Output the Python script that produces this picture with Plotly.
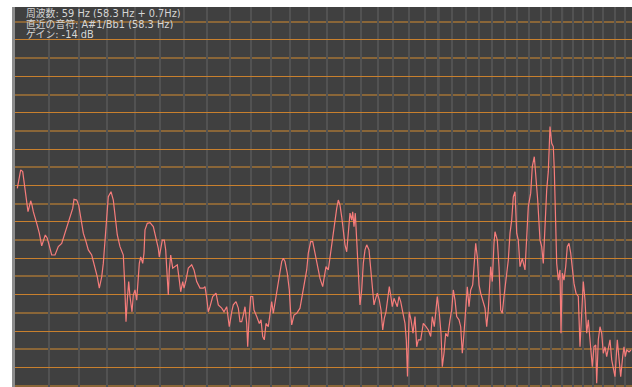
import plotly.graph_objects as go

# Spectrum analyser readout (bin index vs level in dB)
bins = [5.3, 7, 8.7, 10.7, 12, 14, 16, 17.3, 18.7, 20, 21.3, 24.7, 27.3, 29.7, 31.3, 33.3, 35.3, 37.3, 39.7, 43,
        46.3, 49.7, 54.7, 58, 60.7, 62, 64.7, 66.7, 68.7, 71.3, 74, 76.3, 79.7, 83, 85.3, 87.3, 89.7, 91.3, 93, 94.7,
        96.3, 99, 101.3, 103, 105.3, 108, 111.3, 112.7, 113.3, 114, 115.3, 116.7, 118, 120, 121.3, 123, 124.7, 125.7, 127.3, 128.7,
        130.7, 132, 133, 135.3, 138, 141.3, 143, 144.7, 146.3, 147.3, 149, 150.3, 152.3, 153.7, 154.7, 155.5, 156.3, 157.3, 158.7, 160.7,
        163, 165.3, 167.3, 168.7, 170.7, 172, 174, 176.3, 179.7, 182, 184.7, 188, 191.3, 193, 194.7, 196.3, 198, 200.7, 204, 206.3,
        209.7, 212, 214.7, 217.3, 219.7, 221.3, 224, 226.3, 228, 229.7, 231.3, 233, 234.7, 235.7, 237, 238.7, 240.7, 242, 244.7, 247.3,
        249, 250.7, 252.3, 254, 256.3, 258, 259.7, 261.3, 263, 264.7, 267.3, 269.7, 271.3, 273, 275.3, 277.3, 278.7, 279.7, 282, 284.7,
        288, 290.7, 293, 294.7, 296.3, 298.7, 300.7, 303, 305.3, 308, 310.7, 312, 314, 316.3, 318, 320.3, 322.3, 324.7, 326.3, 328,
        329.7, 331.3, 333, 334.7, 336.3, 338, 339.7, 340.7, 342, 343.3, 344.7, 346.3, 348, 349.7, 351.3, 353, 354.7, 357, 358.7, 360.3,
        362, 363.7, 365.3, 367.3, 369, 370.7, 372.3, 374, 375.7, 377.3, 378.7, 380.3, 382, 383.7, 385.3, 387, 388.7, 390.7, 393, 394.3,
        395.5, 397.2, 399, 401, 403, 404.7, 406.3, 408.7, 411.3, 414, 416.3, 418.7, 420.3, 422.3, 424, 425.3, 427.3, 429, 430.3, 432,
        433.7, 435.7, 438, 439.7, 441.3, 443, 444.7, 447, 448.7, 450.3, 452, 453.7, 455.3, 457, 458.7, 460.7, 462.3, 463.7, 465.3, 467,
        468.7, 470.7, 473, 474.7, 476.3, 478.7, 480.3, 482, 483, 485.3, 487, 488.7, 490.3, 492, 494, 496.3, 498, 499.7, 501.3, 503,
        504.7, 506.3, 508, 510.3, 513, 514.7, 516.3, 518.7, 520.3, 522.3, 524, 525.7, 528, 529.7, 531.3, 533, 534.7, 536.3, 538, 539.7,
        541.3, 542.3, 543.7, 544.7, 546.3, 548, 549, 550.3, 552, 553.7, 555.3, 557, 558.7, 560.3, 562, 564, 566.3, 568, 569.7, 571.3,
        573, 574.7, 576.3, 578, 580.3, 582, 583.7, 584.7, 586.3, 588, 589.7, 591.3, 593, 594.7, 596.3, 598, 599.7, 601.3, 603, 605.3,
        607.3, 608.7, 610.7, 612, 613.3, 614.7, 617, 619]

level_db = [-50.8, -47.9, -45.7, -46.2, -49.3, -53.1, -57.2, -55.8, -54.2, -55.4, -57.2, -60.4, -63.1, -66.6, -65.4, -63.6, -64.5, -66.3, -69.1, -69.1,
            -66.8, -65.9, -61.8, -59.0, -56.3, -53.8, -54.0, -55.4, -58.6, -63.1, -65.4, -67.7, -69.1, -72.3, -75.1, -78.2, -75.1, -71.4, -65.0, -56.7,
            -53.1, -51.7, -54.0, -58.1, -63.6, -66.8, -69.1, -76.9, -82.8, -87.4, -81.5, -76.4, -80.5, -84.7, -80.1, -78.7, -81.5, -77.8, -71.4, -69.6,
            -71.4, -68.6, -62.2, -60.4, -60.2, -61.3, -63.1, -65.0, -67.3, -69.6, -66.8, -65.0, -65.0, -67.7, -72.7, -76.9, -80.1, -73.2, -69.1, -72.7,
            -72.3, -71.8, -76.0, -79.2, -76.4, -78.2, -76.0, -72.7, -71.8, -73.2, -76.4, -78.2, -78.2, -77.8, -80.9, -84.7, -83.3, -80.5, -79.6, -82.8,
            -83.7, -84.7, -83.3, -88.8, -84.7, -82.8, -81.9, -83.7, -87.4, -87.4, -85.6, -83.3, -87.9, -94.3, -86.9, -80.5, -80.5, -84.2, -86.0, -87.9,
            -86.9, -91.5, -92.4, -87.9, -88.8, -84.7, -81.9, -85.1, -82.4, -78.7, -75.1, -70.9, -70.0, -70.9, -74.1, -78.7, -85.1, -88.3, -85.6, -85.1,
            -83.7, -79.6, -76.9, -73.2, -68.6, -65.4, -65.4, -68.6, -72.3, -75.5, -77.8, -76.0, -72.3, -73.2, -69.6, -65.9, -60.4, -56.3, -54.0, -55.4,
            -58.6, -63.1, -66.3, -68.2, -63.1, -57.6, -59.5, -57.2, -61.3, -57.6, -65.0, -76.0, -82.8, -78.7, -71.4, -67.7, -66.3, -67.7, -72.3, -76.9,
            -82.8, -81.0, -79.6, -81.5, -84.2, -89.7, -86.5, -84.7, -80.5, -77.8, -80.1, -83.3, -81.0, -82.4, -83.3, -80.5, -81.9, -84.7, -87.9, -92.4,
            -102.5, -84.7, -86.9, -90.6, -86.0, -94.3, -92.4, -92.4, -87.9, -88.8, -89.7, -91.5, -86.0, -88.8, -83.3, -80.5, -85.1, -90.6, -99.8, -96.1,
            -90.6, -91.5, -86.9, -84.2, -78.7, -81.5, -86.0, -86.9, -88.8, -96.1, -90.6, -82.4, -77.8, -83.3, -78.7, -77.3, -72.3, -65.9, -69.6, -77.3,
            -79.6, -81.5, -83.7, -88.8, -84.2, -72.3, -76.4, -65.9, -62.7, -65.0, -72.3, -84.2, -85.1, -80.5, -76.4, -70.5, -63.1, -59.5, -53.1, -51.7,
            -63.1, -65.0, -72.3, -70.0, -73.2, -63.1, -55.8, -52.1, -44.8, -42.1, -47.6, -54.0, -65.0, -66.8, -71.4, -60.4, -51.2, -46.2, -33.8, -38.4,
            -39.3, -45.7, -58.6, -71.4, -76.0, -73.2, -90.6, -74.1, -76.0, -72.3, -66.8, -65.9, -68.6, -72.3, -76.9, -79.6, -80.5, -94.3, -83.3, -76.4,
            -81.5, -90.6, -86.9, -92.4, -99.8, -94.3, -93.8, -104.3, -92.4, -88.8, -90.6, -96.1, -94.3, -97.0, -94.7, -92.4, -97.9, -100.7, -102.5, -92.4,
            -97.9, -102.5, -97.0, -94.3, -97.0, -95.2, -95.7, -95.2]

# vertical grid positions (bin index)
grid_bins = [37.3, 67, 95.3, 123.3, 148.3, 172.3, 194.7, 218, 238.7, 259, 278.3, 297.3, 315.3, 332.3, 349, 365.7,
             381.3, 397, 413, 426.3, 439.7, 454, 467.3, 480.3, 493, 505.3, 516.7, 528.7, 539, 550.3, 560.7, 571.3,
             581.3, 591.3, 603, 613]
major_bins = [259, 426.3, 550.3]
major_colors = ["#808080", "#cfcfcf", "#767676"]

info_lines = ["周波数: 59 Hz (58.3 Hz + 0.7Hz)",
              "直近の音符: A#1/Bb1 (58.3 Hz)",
              "ゲイン: -14 dB"]

fig = go.Figure()
fig.add_trace(go.Scatter(x=bins, y=level_db, mode="lines",
                         line=dict(color="#f67c7b", width=1.2), hoverinfo="skip", showlegend=False))

shapes = []
for b, c in zip(major_bins, major_colors):
    shapes.append(dict(type="line", xref="x", yref="paper", x0=b, x1=b, y0=0, y1=1,
                       line=dict(color=c, width=1.6), layer="between"))
shapes.append(dict(type="line", xref="x", yref="paper", x0=1.5, x1=1.5, y0=0, y1=1,
                   line=dict(color="#8c8c8c", width=3), layer="above"))

annotations = []
for i, t in enumerate(info_lines):
    annotations.append(dict(text=t, xref="paper", yref="paper", x=13 / 620, y=0.986 - i * 0.0292,
                            xanchor="left", yanchor="middle", align="left", showarrow=False,
                            borderpad=0, height=11, valign="middle",
                            font=dict(family="DejaVu Sans, Noto Sans CJK JP", size=9.8, color="#d6d6d6")))

fig.update_layout(
    width=632, height=387,
    margin=dict(l=12, r=0, t=7, b=0),
    paper_bgcolor="white", plot_bgcolor="#404040",
    shapes=shapes, annotations=annotations,
    xaxis=dict(range=[0, 620], tickmode="array", tickvals=grid_bins, showticklabels=False, ticks="",
               showgrid=True, gridcolor="#525252", gridwidth=2, zeroline=False, showline=False, fixedrange=True),
    yaxis=dict(range=[-105.36, -0.96], tick0=0, dtick=10, showticklabels=False, ticks="",
               showgrid=True, gridcolor="#c8802e", gridwidth=1, zeroline=False, showline=False, fixedrange=True,
               minor=dict(dtick=5, tick0=0, showgrid=True, gridcolor="#8a6638", gridwidth=2, ticks="")),
)

fig.write_html("out.html")
